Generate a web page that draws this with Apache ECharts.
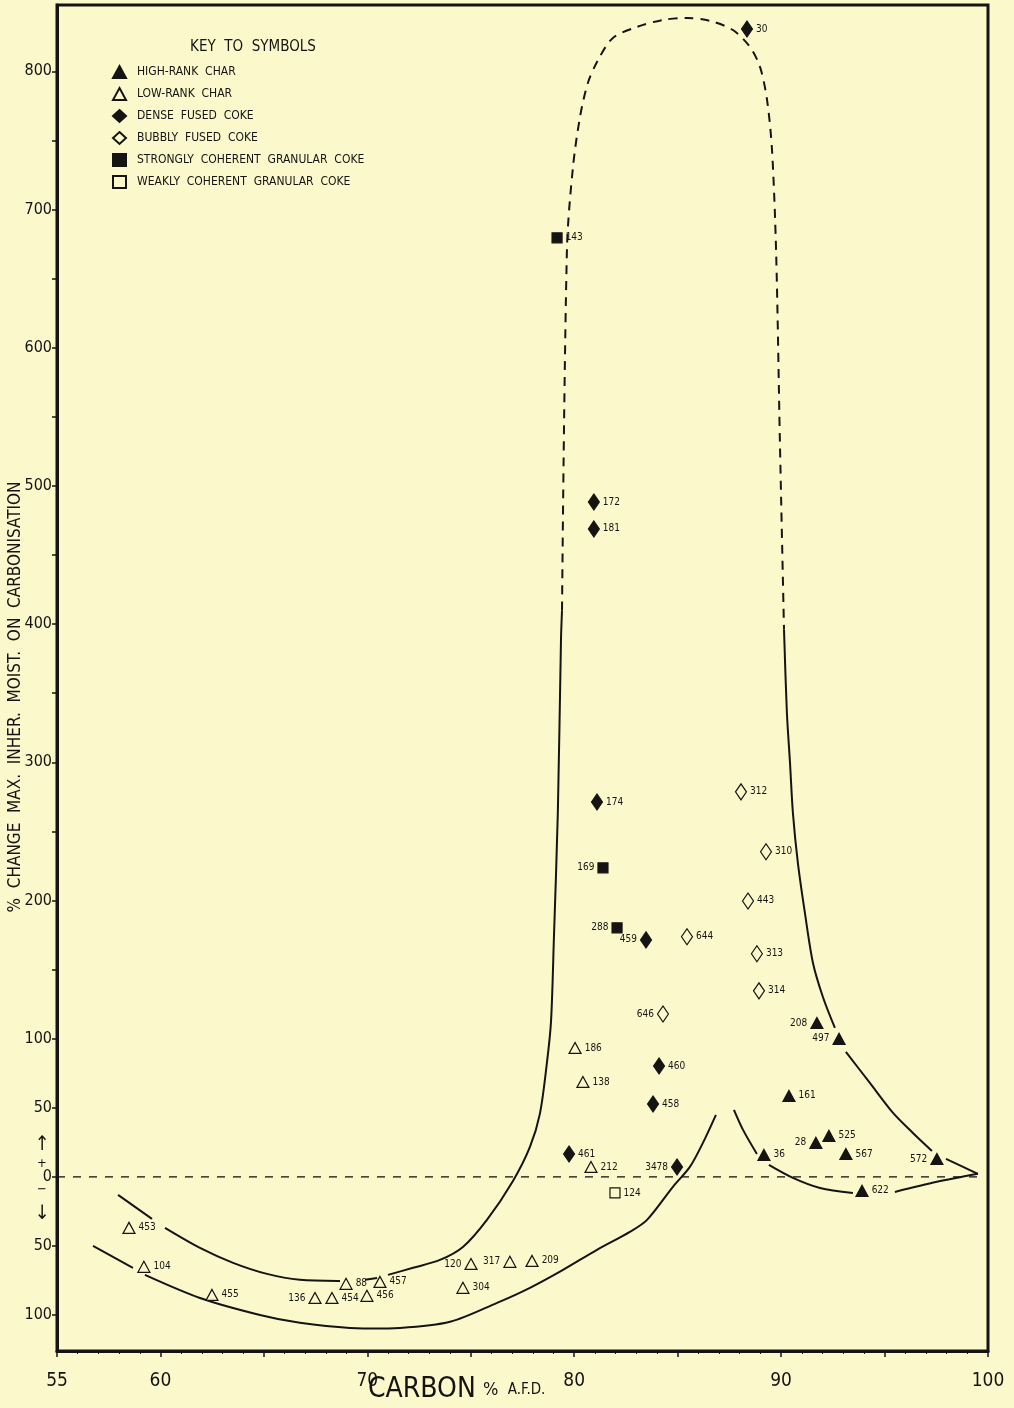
<!DOCTYPE html>
<html>
<head>
<meta charset="utf-8">
<script src="https://cdn.jsdelivr.net/npm/echarts@6/dist/echarts.min.js"></script>
<style>
body { margin: 0; background: #fbf9cc; }
#chart { width: 1014px; height: 1408px; }
</style>
</head>
<body>
<div id="chart"></div>
<script>
// axis ranges and ticks
const xMin = 55, xMax = 100
const yMin = -126, yMax = 848
const xLabelValues = [55, 60, 70, 80, 90, 100]
const yTickValues = [-100, -50, 0, 50, 100, 150, 200, 250, 300, 350, 400, 450, 500, 550, 600, 650, 700, 750, 800]
const yLabelValues = [-100, -50, 0, 50, 100, 200, 300, 400, 500, 600, 700, 800]

// points: [carbon %, change %, sample no.]
const highRankChar = [
  [91.73, 111.4, '208'], [92.80, 99.9, '497'], [90.38, 58.6, '161'], [91.68, 24.6, '28'],
  [92.31, 29.7, '525'], [89.17, 15.9, '36'], [93.13, 16.6, '567'], [97.53, 13.0, '572'],
  [93.91, -10.1, '622']
]
const lowRankChar = [
  [58.48, -36.9, '453'], [59.20, -65.1, '104'], [62.49, -85.4, '455'], [67.47, -87.6, '136'],
  [68.29, -87.6, '454'], [69.98, -86.1, '456'], [68.97, -77.4, '88'], [70.61, -76.0, '457'],
  [75.01, -63.0, '120'], [76.89, -61.5, '317'], [77.96, -60.8, '209'], [74.62, -80.3, '304'],
  [80.04, 93.3, '186'], [80.42, 68.7, '138'], [80.81, 7.2, '212']
]
const denseFusedCoke = [
  [88.35, 830.7, '30'], [80.95, 488.4, '172'], [80.95, 468.9, '181'], [81.10, 271.3, '174'],
  [83.47, 171.5, '459'], [84.10, 80.3, '460'], [83.81, 52.8, '458'], [79.75, 16.6, '461'],
  [84.97, 7.2, '3478']
]
const bubblyFusedCoke = [
  [88.06, 278.6, '312'], [89.27, 235.2, '310'], [88.40, 199.7, '443'], [85.45, 173.7, '644'],
  [88.83, 161.4, '313'], [88.93, 134.6, '314'], [84.29, 117.9, '646']
]
const strongGranularCoke = [[79.17, 679.5, '143'], [81.39, 223.6, '169'], [82.07, 180.2, '288']]
const weakGranularCoke = [[81.97, -11.6, '124']]

// sample numbers written to the left of their symbol
const leftLabels = ['136', '120', '317', '169', '288', '459', '646', '3478', '208', '497', '28', '572']

// hand drawn boundary curves
const outerA = [[56.74, -49.9], [58.67, -65.8]]
const outerB = [[59.25, -70.9], [61.91, -87.6], [64.81, -99.9], [66.74, -105.6], [69.16, -109.3],
  [71.58, -109.3], [74.0, -104.9], [76.27, -91.2], [77.86, -80.3], [79.46, -67.3], [81.1, -52.8],
  [82.69, -39.8], [83.52, -31.1], [84.77, -7.2], [85.59, 7.2], [86.22, 24.6], [86.85, 44.9]]
const innerA = [[57.95, -13.0], [59.59, -30.4]]
const innerB = [[60.22, -36.9], [61.91, -51.4], [63.51, -62.2], [65.15, -70.2], [66.74, -74.5], [68.68, -75.3]]
const innerC = [[69.89, -74.5], [70.47, -73.1]]
const innerD = [[71.0, -70.9], [72.21, -65.8], [73.51, -60.1], [74.62, -50.7], [75.78, -31.1],
  [77.04, -2.9], [77.86, 21.7], [78.34, 45.6], [78.68, 82.5], [78.88, 112.9],
  [79.02, 173.7], [79.21, 264.8], [79.36, 388.6], [79.41, 410]]
const innerTop = [[79.41, 410], [79.65, 672.2], [79.94, 730.8], [80.28, 767.0],
  [80.66, 791.6], [81.15, 808.2], [81.87, 824.2], [83.03, 832.1], [84.29, 837.2], [85.45, 838.6],
  [86.56, 836.5], [87.67, 829.9], [88.49, 817.7], [88.98, 803.2], [89.32, 779.3], [89.56, 743.1],
  [89.76, 668.6], [89.94, 533.3], [90.14, 396]]
const innerRightA = [[90.14, 396], [90.28, 335.7], [90.43, 299.6], [90.57, 263.4], [90.81, 227.2],
  [91.15, 191.0], [91.54, 154.8], [92.02, 130.2], [92.60, 107.8]]
const innerRightB = [[93.13, 90.4], [94.29, 68.0], [95.41, 46.3], [96.37, 31.8], [97.29, 18.8]]
const innerRightC = [[97.97, 13.0], [99.51, 2.2]]
const lowerRightA = [[99.51, 2.2], [97.53, -3.6], [95.50, -10.9]]
const lowerRightB = [[93.47, -11.6], [91.88, -8.0], [90.57, -0.7], [89.41, 8.7]]
const lowerRightC = [[88.83, 16.6], [88.16, 34.0], [87.72, 48.5]]
const zeroLine = [[55, 0], [99.5, 0]]

const FONT = "'DejaVu Sans Condensed', 'DejaVu Sans', sans-serif"
const INK = '#161412'
const PAPER = '#fbf9cc'

const chart = echarts.init(document.getElementById('chart'))

function points (rows) {
  return rows.map(r => ({
    value: [r[0], r[1]],
    name: r[2],
    label: { position: leftLabels.includes(r[2]) ? 'left' : 'right' }
  }))
}

function scatter (name, rows, symbol, size, filled) {
  return {
    name: name,
    type: 'scatter',
    data: points(rows),
    symbol: symbol,
    symbolSize: size,
    z: 3,
    itemStyle: {
      color: filled ? INK : PAPER,
      borderColor: INK,
      borderWidth: 1.2,
      opacity: 1
    },
    label: {
      show: true,
      formatter: '{b}',
      distance: 3,
      color: INK,
      fontFamily: FONT,
      fontSize: 10
    }
  }
}

// one smooth pen stroke through the points, placed with the axes' scales
function curve (data, dashed) {
  return {
    type: 'custom',
    data: data,
    silent: true,
    z: 2,
    renderItem: (params, api) => {
      if (params.dataIndex !== 0) return null
      return {
        type: 'polyline',
        shape: { points: data.map(p => api.coord(p)), smooth: 0.3 },
        style: { fill: null, stroke: INK, lineWidth: 2, lineDash: dashed ? [9, 7] : null }
      }
    }
  }
}

const names = ['HIGH-RANK  CHAR', 'LOW-RANK  CHAR', 'DENSE  FUSED  COKE', 'BUBBLY  FUSED  COKE',
  'STRONGLY  COHERENT  GRANULAR  COKE', 'WEAKLY  COHERENT  GRANULAR  COKE']

chart.setOption({
  backgroundColor: PAPER,
  animation: false,
  textStyle: { fontFamily: FONT, color: INK },
  grid: {
    left: 57, right: 26, top: 5, bottom: 57,
    show: true, borderColor: INK, borderWidth: 3
  },
  legend: {
    data: names,
    orient: 'vertical',
    left: 112,
    top: 65,
    padding: 0,
    itemWidth: 13,
    itemHeight: 12,
    itemGap: 8,
    textStyle: { fontFamily: FONT, fontSize: 12, color: INK, padding: [0, 0, 0, 6] }
  },
  xAxis: {
    type: 'value',
    min: xMin,
    max: xMax,
    interval: 5,
    axisLine: { onZero: false, lineStyle: { color: INK, width: 3 } },
    axisTick: { length: 6, lineStyle: { color: INK, width: 1.5 } },
    minorTick: { show: true, splitNumber: 5, length: 3, lineStyle: { color: INK } },
    axisLabel: {
      customValues: xLabelValues,
      margin: 21,
      fontSize: 19,
      color: INK,
      fontFamily: FONT
    },
    splitLine: { show: false }
  },
  yAxis: {
    type: 'value',
    min: yMin,
    max: yMax,
    axisLine: { show: true, onZero: false, lineStyle: { color: INK, width: 3 } },
    axisTick: { show: true, customValues: yTickValues, length: 5, lineStyle: { color: INK, width: 1.5 } },
    axisLabel: {
      customValues: yLabelValues,
      formatter: v => Math.abs(v),
      margin: 5,
      fontSize: 16,
      color: INK,
      fontFamily: FONT
    },
    splitLine: { show: false }
  },
  graphic: [
    { type: 'text', x: 253, y: 47, style: { text: 'KEY  TO  SYMBOLS', font: '15px ' + FONT, fill: INK, align: 'center', verticalAlign: 'middle' } },
    {
      type: 'text', x: 16, y: 697, rotation: Math.PI / 2,
      style: {
        text: '%  CHANGE  MAX.  INHER.  MOIST.  ON  CARBONISATION',
        font: '17px ' + FONT, fill: INK, align: 'center', verticalAlign: 'middle'
      }
    },
    {
      type: 'text', x: 368, y: 1390,
      style: {
        text: '{a|CARBON} {b|%} {c|A.F.D.}',
        verticalAlign: 'middle',
        rich: {
          a: { font: '28px ' + FONT, fill: INK },
          b: { font: '18px ' + FONT, fill: INK, padding: [0, 6, 0, 4] },
          c: { font: '15px ' + FONT, fill: INK }
        }
      }
    },
    { type: 'text', x: 42, y: 1145, style: { text: '↑', font: '20px ' + FONT, fill: INK, align: 'center', verticalAlign: 'middle' } },
    { type: 'text', x: 42, y: 1164, style: { text: '+', font: '13px ' + FONT, fill: INK, align: 'center', verticalAlign: 'middle' } },
    { type: 'text', x: 42, y: 1190, style: { text: '−', font: '13px ' + FONT, fill: INK, align: 'center', verticalAlign: 'middle' } },
    { type: 'text', x: 42, y: 1214, style: { text: '↓', font: '20px ' + FONT, fill: INK, align: 'center', verticalAlign: 'middle' } }
  ],
  series: [
    scatter(names[0], highRankChar, 'triangle', [12, 11], true),
    scatter(names[1], lowRankChar, 'triangle', [12, 11], false),
    scatter(names[2], denseFusedCoke, 'diamond', [11, 16], true),
    scatter(names[3], bubblyFusedCoke, 'diamond', [11, 16], false),
    scatter(names[4], strongGranularCoke, 'rect', [10, 10], true),
    scatter(names[5], weakGranularCoke, 'rect', [10, 10], false),
    curve(outerA), curve(outerB),
    curve(innerA), curve(innerB), curve(innerC), curve(innerD),
    curve(innerTop, true),
    curve(innerRightA), curve(innerRightB), curve(innerRightC),
    curve(lowerRightA), curve(lowerRightB), curve(lowerRightC),
    {
      type: 'line',
      data: zeroLine,
      symbol: 'none',
      silent: true,
      z: 1,
      lineStyle: { color: INK, width: 1.3, type: [8, 8] }
    }
  ]
})
</script>
</body>
</html>
